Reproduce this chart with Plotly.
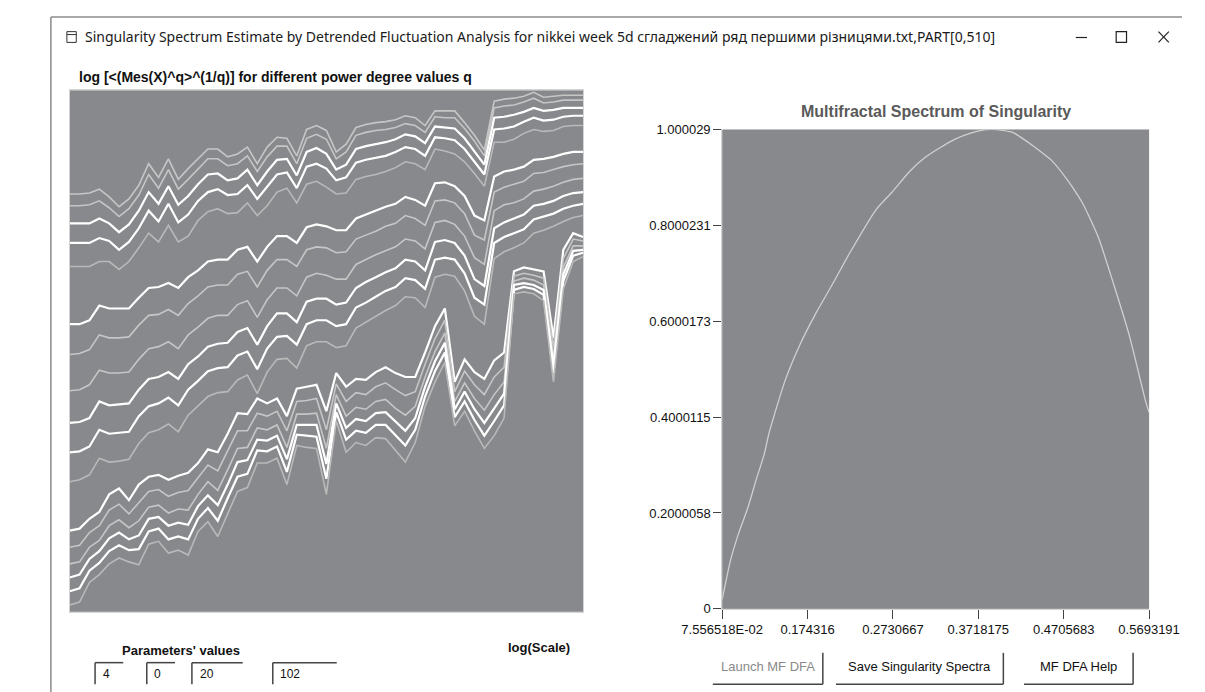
import plotly.graph_objects as go

W, H = 1205, 692

# ---------------- data: left panel (log F_q vs log scale, arbitrary units) ----------------
scale_idx = [0, 1, 2, 3, 4, 5, 6, 7, 8, 9, 10, 11, 12, 13, 14, 15, 16, 17, 18, 19, 20, 21, 22, 23, 24, 25,
             26, 27, 28, 29, 30, 31, 32, 33, 34, 35, 36, 37, 38, 39, 40, 41, 42, 43, 44, 45, 46, 47, 48, 49, 50, 51, 52]

A1 = [-183,-183,-182,-178,-186,-196,-188,-174,-152,-166,-147,-168,-157,-147,-137,-137,-145,-142,-135,-152,-135,-125,-126,-144,-117,-113,-118,-140,-132,-115,-112,-110,-109,-107,-103,-105,-113,-98,-98,-98,-110,-123,-138,-88,-86,-85,-83,-79,-84,-83,-82,-82,-82]
A2 = [-195,-195,-194,-190,-197,-206,-198,-184,-163,-177,-158,-178,-168,-157,-147,-147,-154,-152,-144,-160,-145,-134,-134,-152,-126,-122,-127,-147,-140,-123,-120,-118,-117,-115,-111,-113,-120,-104,-105,-105,-116,-129,-144,-95,-93,-92,-89,-85,-90,-89,-87,-87,-87]
A3 = [-213,-213,-213,-208,-213,-222,-214,-200,-181,-193,-175,-194,-185,-173,-163,-162,-169,-167,-158,-174,-160,-148,-147,-164,-140,-136,-142,-158,-153,-137,-134,-132,-130,-127,-122,-124,-131,-114,-115,-116,-126,-139,-153,-105,-104,-102,-99,-95,-98,-97,-95,-95,-95]
A4 = [-233,-233,-233,-228,-231,-240,-232,-218,-200,-211,-193,-212,-204,-190,-181,-178,-184,-183,-174,-188,-176,-163,-161,-177,-155,-152,-157,-169,-166,-151,-148,-146,-144,-140,-135,-137,-144,-125,-126,-128,-137,-150,-163,-117,-116,-114,-109,-105,-108,-107,-104,-103,-103]
A5 = [-257,-257,-257,-252,-252,-260,-252,-238,-223,-232,-215,-232,-226,-210,-201,-198,-203,-202,-192,-205,-195,-181,-177,-192,-173,-170,-176,-183,-182,-168,-165,-163,-160,-156,-150,-152,-158,-137,-139,-142,-150,-162,-175,-130,-130,-127,-121,-117,-119,-118,-114,-113,-113]

B1 = [-316,-316,-312,-297,-300,-300,-300,-289,-279,-278,-274,-279,-268,-261,-252,-250,-250,-240,-237,-252,-237,-226,-226,-233,-217,-214,-216,-220,-220,-208,-204,-200,-196,-193,-186,-189,-195,-172,-171,-175,-185,-205,-210,-165,-160,-158,-155,-148,-147,-145,-142,-140,-140]
B2 = [-347,-346,-342,-327,-330,-330,-329,-317,-307,-306,-301,-307,-295,-287,-278,-276,-276,-265,-262,-278,-261,-250,-250,-257,-240,-237,-238,-243,-242,-229,-225,-221,-216,-213,-205,-208,-215,-190,-189,-192,-203,-225,-230,-181,-176,-173,-170,-162,-161,-158,-155,-153,-152]
B3 = [-384,-383,-378,-363,-366,-366,-365,-352,-341,-339,-334,-341,-327,-319,-310,-307,-307,-296,-292,-309,-291,-279,-279,-287,-268,-264,-266,-270,-270,-255,-250,-245,-241,-237,-229,-231,-239,-212,-210,-214,-226,-248,-255,-200,-194,-192,-188,-180,-178,-175,-171,-168,-167]
B4 = [-417,-416,-412,-395,-399,-398,-397,-383,-372,-370,-365,-372,-357,-349,-339,-336,-335,-324,-320,-337,-318,-305,-305,-314,-293,-290,-290,-296,-294,-279,-273,-268,-263,-259,-250,-252,-261,-232,-230,-233,-246,-270,-277,-218,-212,-208,-204,-195,-193,-190,-185,-182,-181]
B5 = [-447,-446,-441,-424,-428,-427,-426,-410,-400,-397,-391,-399,-383,-374,-364,-361,-360,-348,-344,-362,-341,-329,-328,-337,-316,-312,-312,-318,-316,-299,-294,-288,-282,-278,-269,-271,-280,-250,-248,-250,-264,-289,-296,-233,-227,-223,-219,-209,-206,-203,-198,-195,-193]
B6 = [-477,-475,-470,-453,-457,-456,-454,-438,-427,-424,-418,-426,-409,-400,-390,-386,-385,-373,-368,-387,-365,-352,-351,-361,-338,-334,-334,-340,-338,-320,-314,-308,-302,-297,-288,-289,-299,-268,-265,-267,-282,-308,-316,-249,-242,-238,-233,-223,-220,-216,-211,-207,-205]

C1 = [-527,-525,-515,-508,-490,-484,-496,-480,-472,-470,-475,-471,-468,-458,-444,-447,-428,-407,-408,-392,-397,-392,-410,-382,-380,-378,-405,-366,-380,-372,-373,-365,-360,-366,-370,-370,-345,-318,-300,-375,-352,-365,-372,-353,-345,-262,-258,-260,-262,-330,-240,-223,-227]
C2 = [-544,-542,-529,-522,-506,-500,-510,-498,-487,-485,-492,-488,-486,-473,-460,-466,-446,-425,-425,-407,-410,-405,-425,-395,-394,-392,-424,-377,-395,-386,-388,-380,-376,-383,-389,-385,-357,-331,-312,-385,-364,-378,-388,-370,-360,-267,-264,-266,-269,-340,-249,-229,-231]
C3 = [-561,-559,-544,-537,-522,-516,-524,-517,-503,-501,-509,-505,-506,-490,-477,-486,-465,-443,-442,-422,-424,-419,-442,-408,-408,-407,-443,-388,-410,-401,-403,-395,-393,-402,-409,-400,-370,-344,-325,-395,-376,-392,-404,-388,-375,-272,-269,-271,-276,-350,-258,-236,-236]
C4 = [-575,-572,-556,-548,-535,-529,-536,-532,-515,-513,-522,-519,-521,-502,-491,-501,-480,-457,-455,-434,-435,-430,-454,-419,-419,-419,-459,-397,-422,-413,-415,-407,-406,-416,-425,-412,-380,-354,-335,-403,-385,-403,-417,-402,-387,-276,-274,-276,-281,-358,-265,-241,-240]
C5 = [-589,-586,-568,-560,-548,-542,-547,-546,-528,-525,-536,-533,-536,-515,-504,-517,-494,-472,-469,-445,-446,-441,-467,-429,-430,-431,-474,-406,-434,-425,-427,-419,-419,-430,-440,-424,-390,-364,-345,-411,-395,-414,-430,-415,-399,-281,-278,-280,-286,-366,-272,-246,-243]
C6 = [-603,-600,-580,-572,-561,-555,-559,-562,-541,-538,-550,-547,-552,-528,-518,-533,-510,-487,-483,-458,-458,-453,-480,-440,-442,-443,-490,-415,-447,-437,-440,-432,-433,-445,-457,-437,-400,-375,-355,-420,-405,-425,-443,-430,-412,-285,-283,-285,-292,-375,-280,-252,-247]

# ---------------- data: right panel (singularity spectrum f(alpha)) ----------------
alpha = [0.0756, 0.0790, 0.0850, 0.0950, 0.1050, 0.1150, 0.1245, 0.1299, 0.1481, 0.1662, 0.1843, 0.2024,
         0.2242, 0.2532, 0.2713, 0.2931, 0.3112, 0.3293, 0.3450, 0.3620, 0.3750, 0.3873, 0.4000, 0.4127,
         0.4199, 0.4380, 0.4562, 0.4743, 0.4924, 0.5106, 0.5287, 0.5468, 0.5650, 0.5693]
f_alpha = [0.02, 0.05, 0.10, 0.16, 0.21, 0.27, 0.325, 0.368, 0.475, 0.554, 0.618, 0.675,
           0.746, 0.832, 0.868, 0.914, 0.943, 0.964, 0.980, 0.992, 0.998, 1.0, 0.998, 0.993,
           0.985, 0.962, 0.936, 0.896, 0.846, 0.775, 0.675, 0.568, 0.435, 0.41]

x_ticks = [0.07556518, 0.174316, 0.2730667, 0.3718175, 0.4705683, 0.5693191]
x_tick_text = ["7.556518E-02", "0.174316", "0.2730667", "0.3718175", "0.4705683", "0.5693191"]
y_ticks = [0, 0.2000058, 0.4000115, 0.6000173, 0.8000231, 1.000029]
y_tick_text = ["0", "0.2000058", "0.4000115", "0.6000173", "0.8000231", "1.000029"]

param_values = ["4", "0", "20", "102"]
button_labels = ["Launch MF DFA", "Save Singularity Spectra", "MF DFA Help"]

# ---------------- styling ----------------
WHITE = "#ffffff"
DIM = "#c6c6c6"
PLOT_BG = "#88898d"

left_series = [
    (A1, DIM), (A2, DIM), (A3, WHITE), (A4, WHITE), (A5, "#b9b9b9"),
    (B1, WHITE), (B2, DIM), (B3, DIM), (B4, WHITE), (B5, WHITE), (B6, "#b9b9b9"),
    (C1, WHITE), (C2, DIM), (C3, DIM), (C4, WHITE), (C5, WHITE), (C6, "#b9b9b9"),
]


def X(px):
    return px / W


def Y(py):
    return 1 - py / H


fig = go.Figure()

for vals, col in left_series:
    fig.add_trace(go.Scatter(
        x=scale_idx, y=vals, mode="lines",
        line=dict(color=col, width=2.2 if col == WHITE else 1.6),
        xaxis="x", yaxis="y", hoverinfo="skip", showlegend=False))

fig.add_trace(go.Scatter(
    x=alpha, y=f_alpha, mode="lines", line=dict(color="#d0d0d0", width=1.3, shape="spline", smoothing=0.6),
    xaxis="x2", yaxis="y2", hoverinfo="skip", showlegend=False))

font_main = "Liberation Sans, Arial, sans-serif"

fig.update_layout(
    width=W, height=H,
    margin=dict(l=0, r=0, t=0, b=0),
    paper_bgcolor="white",
    plot_bgcolor=PLOT_BG,
    showlegend=False,
    xaxis=dict(domain=[X(22), X(568)], range=[0, 52], showgrid=False, zeroline=False,
               showticklabels=False, ticks="", showline=True, linecolor="#d4d4d4", mirror=True),
    yaxis=dict(domain=[Y(610), Y(77)], range=[-610, -77], showgrid=False, zeroline=False,
               showticklabels=False, ticks="", showline=True, linecolor="#d4d4d4", mirror=True),
    xaxis2=dict(domain=[X(716), X(1170)], range=[0.07556518, 0.5693191], anchor="y2",
                showgrid=False, zeroline=False, tickvals=x_ticks, ticktext=x_tick_text,
                ticks="outside", ticklen=9, tickcolor="#444", tickwidth=1,
                tickfont=dict(family=font_main, size=13, color="#111"),
                showline=True, linecolor="#d4d4d4"),
    yaxis2=dict(domain=[Y(607), Y(117)], range=[0, 1.000029], anchor="x2",
                showgrid=False, zeroline=False, tickvals=y_ticks, ticktext=y_tick_text,
                ticks="outside", ticklen=8, tickcolor="#444", tickwidth=1,
                tickfont=dict(family=font_main, size=13, color="#111"),
                showline=True, linecolor="#d4d4d4"),
)

annotations = []
shapes = []

# window border (left and top)
shapes.append(dict(type="line", xref="paper", yref="paper", x0=X(2), x1=X(2), y0=Y(2), y1=0,
                   line=dict(color="#8c8c8c", width=1.5)))
shapes.append(dict(type="line", xref="paper", yref="paper", x0=X(2), x1=1, y0=Y(2), y1=Y(2),
                   line=dict(color="#8c8c8c", width=1.5)))

# window title bar
annotations.append(dict(text="Singularity Spectrum Estimate by Detrended Fluctuation Analysis for nikkei week 5d сгладжений ряд першими різницями.txt,PART[0,510]",
                        x=X(36), y=Y(22), xref="paper", yref="paper", xanchor="left", yanchor="middle",
                        showarrow=False, font=dict(family="Noto Sans, Open Sans, sans-serif", size=14, color="#1a1a1a")))
# icon
shapes.append(dict(type="rect", xref="paper", yref="paper", x0=X(19), x1=X(29), y0=Y(28), y1=Y(17),
                   line=dict(color="#333", width=1)))
shapes.append(dict(type="line", xref="paper", yref="paper", x0=X(19), x1=X(29), y0=Y(20), y1=Y(20),
                   line=dict(color="#333", width=1)))
# window controls
shapes.append(dict(type="line", xref="paper", yref="paper", x0=X(1092), x1=X(1104), y0=Y(23), y1=Y(23),
                   line=dict(color="#222", width=1.2)))
shapes.append(dict(type="rect", xref="paper", yref="paper", x0=X(1135), x1=X(1146), y0=Y(28), y1=Y(17),
                   line=dict(color="#222", width=1.2)))
shapes.append(dict(type="line", xref="paper", yref="paper", x0=X(1180), x1=X(1191), y0=Y(28), y1=Y(17),
                   line=dict(color="#222", width=1.2)))
shapes.append(dict(type="line", xref="paper", yref="paper", x0=X(1180), x1=X(1191), y0=Y(17), y1=Y(28),
                   line=dict(color="#222", width=1.2)))

# left chart title
annotations.append(dict(text="<b>log [&lt;(Mes(X)^q&gt;^(1/q)] for different power degree values q</b>",
                        x=X(30), y=Y(63), xref="paper", yref="paper", xanchor="left", yanchor="middle",
                        showarrow=False, font=dict(family=font_main, size=14, color="#111")))
# right chart title
annotations.append(dict(text="<b>Multifractal Spectrum of Singularity</b>",
                        x=X(943), y=Y(99), xref="paper", yref="paper", xanchor="center", yanchor="middle",
                        showarrow=False, font=dict(family=font_main, size=16, color="#5a5a5a")))
# log(Scale)
annotations.append(dict(text="<b>log(Scale)</b>", x=X(521), y=Y(647), xref="paper", yref="paper",
                        xanchor="center", yanchor="middle", showarrow=False,
                        font=dict(family=font_main, size=13, color="#111")))
# Parameters' values
annotations.append(dict(text="<b>Parameters' values</b>", x=X(140), y=Y(650), xref="paper", yref="paper",
                        xanchor="center", yanchor="middle", showarrow=False,
                        font=dict(family=font_main, size=13, color="#111")))

box_edges = [(49, 79), (104, 134), (152, 206), (238, 306)]
for (bx0, bx1), val in zip(box_edges, param_values):
    shapes.append(dict(type="line", xref="paper", yref="paper", x0=X(bx0), x1=X(bx1), y0=Y(662), y1=Y(662),
                       line=dict(color="#444", width=1.5)))
    shapes.append(dict(type="line", xref="paper", yref="paper", x0=X(bx0), x1=X(bx0), y0=Y(662), y1=Y(684),
                       line=dict(color="#444", width=1.5)))
    annotations.append(dict(text=val, x=X(bx0 + 6), y=Y(674), xref="paper", yref="paper",
                            xanchor="left", yanchor="middle", showarrow=False,
                            font=dict(family=font_main, size=12, color="#111")))

button_edges = [(706, 823), (837, 1015), (1037, 1153)]
button_colors = ["#8a8a8a", "#111", "#111"]
for (bx0, bx1), lab, col in zip(button_edges, button_labels, button_colors):
    shapes.append(dict(type="line", xref="paper", yref="paper", x0=X(bx1), x1=X(bx1), y0=Y(652), y1=Y(684),
                       line=dict(color="#444", width=1.5)))
    shapes.append(dict(type="line", xref="paper", yref="paper", x0=X(bx0), x1=X(bx1), y0=Y(684), y1=Y(684),
                       line=dict(color="#444", width=1.5)))
    annotations.append(dict(text=lab, x=X((bx0 + bx1) / 2), y=Y(666), xref="paper", yref="paper",
                            xanchor="center", yanchor="middle", showarrow=False,
                            font=dict(family=font_main, size=13, color=col)))

fig.update_layout(annotations=annotations, shapes=shapes)

fig.write_html("out.html")
